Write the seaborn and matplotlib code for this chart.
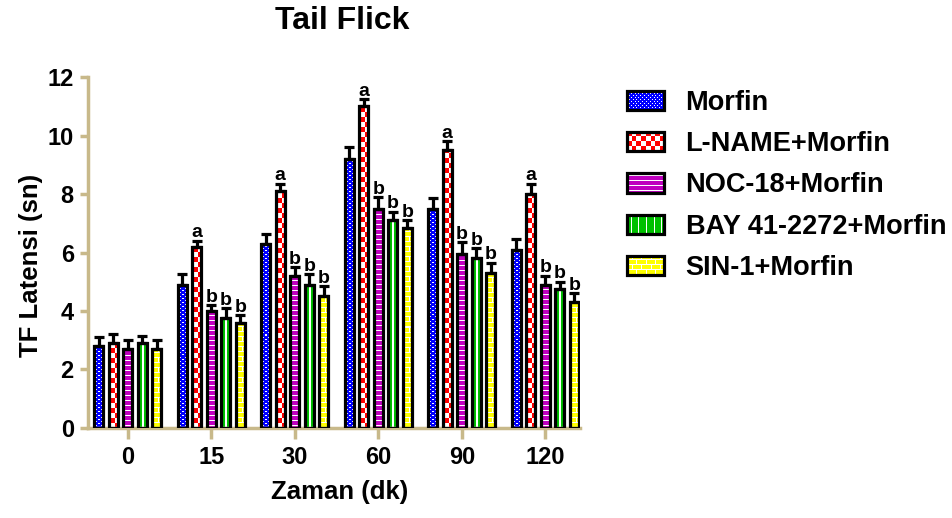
import numpy as np
import pandas as pd
import matplotlib
matplotlib.use('Agg')
import matplotlib.pyplot as plt
import matplotlib.patches as mpatches
from matplotlib.colors import to_rgb
from matplotlib.image import BboxImage
from matplotlib.transforms import Bbox, TransformedBbox
from matplotlib.legend_handler import HandlerBase
import seaborn as sns

# data
times = ['0', '15', '30', '60', '90', '120']
groups = ['Morfin', 'L-NAME+Morfin', 'NOC-18+Morfin', 'BAY 41-2272+Morfin', 'SIN-1+Morfin']
morfin = [2.8, 4.9, 6.3, 9.2, 7.5, 6.1]
lname = [2.9, 6.2, 8.1, 11.0, 9.5, 8.0]
noc = [2.7, 4.0, 5.2, 7.5, 5.95, 4.9]
bay = [2.9, 3.75, 4.9, 7.1, 5.8, 4.75]
sin1 = [2.7, 3.6, 4.5, 6.85, 5.3, 4.3]
morfin_err = [0.3, 0.35, 0.35, 0.4, 0.35, 0.35]
lname_err = [0.3, 0.2, 0.25, 0.25, 0.3, 0.35]
noc_err = [0.3, 0.2, 0.3, 0.4, 0.4, 0.3]
bay_err = [0.25, 0.35, 0.35, 0.3, 0.35, 0.25]
sin1_err = [0.3, 0.25, 0.35, 0.25, 0.35, 0.3]
letters_lname = ['', 'a', 'a', 'a', 'a', 'a']
letters_other = ['', 'b', 'b', 'b', 'b', 'b']

colors = ['#0000FF', '#FF0000', '#BF00BF', '#00C000', '#FFFF00']
patterns = ['fine_check', 'check', 'hlines', 'vlines', 'brick']
axis_col = '#C8B98A'

values = [morfin, lname, noc, bay, sin1]
errors = [morfin_err, lname_err, noc_err, bay_err, sin1_err]
letters = [[''] * 6, letters_lname, letters_other, letters_other, letters_other]


def texture(kind, color, w, h, xoff=0):
    # pixel fill pattern, white on colour
    w, h = max(int(round(w)), 1), max(int(round(h)), 1)
    yy, xx = np.mgrid[0:h, 0:w]
    xx = xx + xoff
    if kind == 'fine_check':
        white = ((xx // 2 + yy // 2) % 2 == 0) & (xx % 2 == 0) & (yy % 2 == 0)
    elif kind == 'check':
        white = (xx // 5 + yy // 5) % 2 == 0
    elif kind == 'hlines':
        white = yy % 5 == 2
    elif kind == 'vlines':
        white = xx % 8 == 4
    else:
        white = (yy % 5 == 0) | ((xx + 5 * ((yy // 5) % 2)) % 10 == 0)
    img = np.empty((h, w, 3))
    img[:] = to_rgb(color)
    img[white] = 1.0
    return img


df = pd.DataFrame({
    'Zaman': np.tile(times, len(groups)),
    'Grup': np.repeat(groups, len(times)),
    'TF': np.concatenate(values),
})

sns.set_style('white')
plt.rcParams['font.family'] = ['Liberation Sans', 'DejaVu Sans']
plt.rcParams['font.weight'] = 'bold'
plt.rcParams['text.color'] = 'black'
plt.rcParams['axes.labelcolor'] = 'black'

fig = plt.figure(figsize=(9.53, 5.18), dpi=100)
ax = fig.add_axes([0.092, 0.174, 0.517, 0.677])

sns.barplot(data=df, x='Zaman', y='TF', hue='Grup', order=times, hue_order=groups,
            palette=colors, errorbar=None, width=0.87, gap=0.38, ax=ax,
            edgecolor='black', linewidth=0, legend=False)

ax.set_ylim(0, 12)
ax.set_xlim(-0.48, 5.42)
px_x = ax.transData.transform((1, 0))[0] - ax.transData.transform((0, 0))[0]
px_y = ax.transData.transform((0, 1))[1] - ax.transData.transform((0, 0))[1]

bar_conts = list(ax.containers)
for i, cont in enumerate(bar_conts):
    for j, bar in enumerate(cont):
        x0, w, h = bar.get_x(), bar.get_width(), bar.get_height()
        tex = texture(patterns[i], colors[i], w * px_x, h * px_y)
        im = ax.imshow(tex, extent=(x0, x0 + w, 0, h), origin='lower', aspect='auto',
                       interpolation='nearest', zorder=2)
        im.set_clip_path(bar)
        ax.add_patch(mpatches.Rectangle((x0, 0), w, h, fill=False, edgecolor='black',
                                        linewidth=2.3, zorder=3))
        xc = x0 + w / 2
        ax.errorbar(xc, h, yerr=[[0], [errors[i][j]]], color='black',
                    elinewidth=2.3, capsize=3.3, capthick=2.3, zorder=4)
        if letters[i][j]:
            ax.text(xc, h + errors[i][j] - 0.02, letters[i][j], ha='center', va='bottom',
                    fontsize=14, fontweight='bold')

ax.set_ylim(0, 12)
ax.set_xlim(-0.48, 5.42)
ax.set_yticks(range(0, 13, 2))
ax.set_xticks(range(len(times)))
ax.set_xticklabels(times)
for side in ['top', 'right']:
    ax.spines[side].set_visible(False)
for side in ['left', 'bottom']:
    ax.spines[side].set_color(axis_col)
    ax.spines[side].set_linewidth(2.5)
ax.tick_params(axis='both', bottom=True, left=True, direction='out', width=2.5,
               color=axis_col, labelcolor='black', labelsize=17)
ax.tick_params(axis='x', length=8, pad=5)
ax.tick_params(axis='y', length=6, pad=4)
for lab in ax.get_xticklabels() + ax.get_yticklabels():
    lab.set_fontweight('bold')
ax.set_xlabel('Zaman (dk)', fontsize=18.5, fontweight='bold', labelpad=8, x=0.512)
ax.set_ylabel('TF Latensi (sn)', fontsize=18.5, fontweight='bold', labelpad=3, y=0.462)
ax.set_title('Tail Flick', fontsize=23, fontweight='bold', pad=35, x=0.516)


class TextureHandler(HandlerBase):
    def __init__(self, kind, color):
        super().__init__()
        self.kind, self.color = kind, color

    def create_artists(self, legend, orig_handle, xdescent, ydescent, width, height,
                       fontsize, trans):
        bb = TransformedBbox(Bbox.from_bounds(-xdescent, -ydescent, width, height), trans)
        img = BboxImage(bb, interpolation='nearest', origin='lower')
        img.set_data(texture(self.kind, self.color, 40, 20, xoff=0))
        rect = mpatches.Rectangle((-xdescent, -ydescent), width, height, fill=False,
                                  edgecolor='black', linewidth=2.3, transform=trans)
        return [img, rect]


handles = [mpatches.Patch(facecolor=c, label=g) for c, g in zip(colors, groups)]
hmap = {hd: TextureHandler(k, c) for hd, k, c in zip(handles, patterns, colors)}
leg = fig.legend(handles, groups, handler_map=hmap, loc='upper left',
                 bbox_to_anchor=(0.658, 0.826), frameon=False, borderpad=0, borderaxespad=0,
                 prop={'size': 19.5, 'weight': 'bold'},
                 handlelength=1.38, handleheight=0.72, labelspacing=0.56, handletextpad=0.78)

fig.savefig('out.png', dpi=100)
